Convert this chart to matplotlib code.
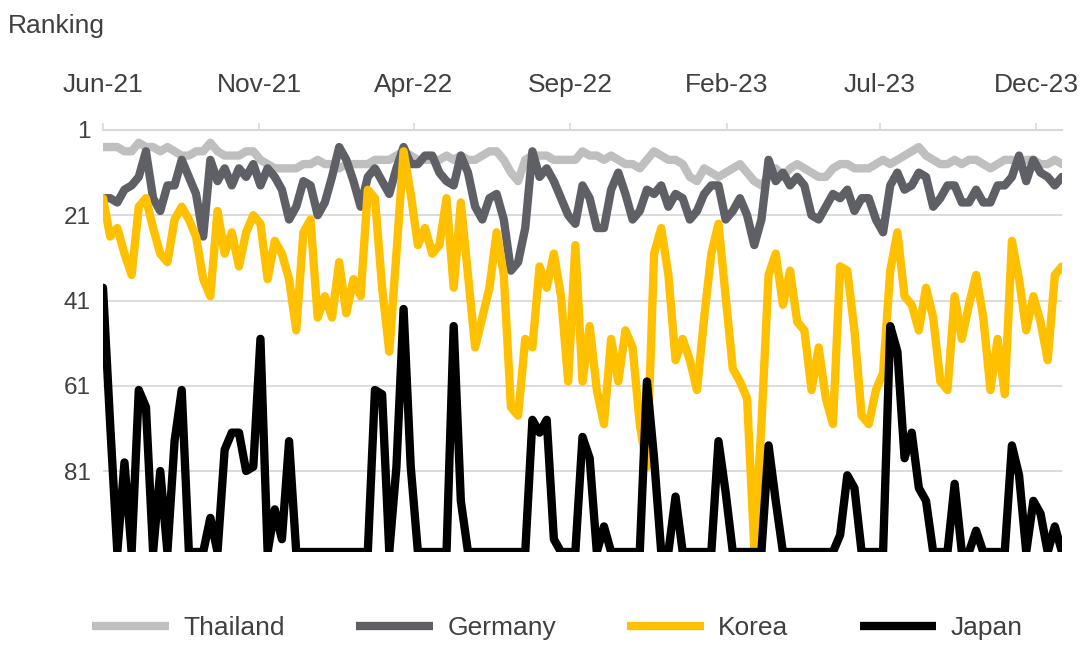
import matplotlib
matplotlib.use("Agg")
import matplotlib.pyplot as plt
import pandas as pd

plt.rcParams['font.family'] = ['Liberation Sans', 'DejaVu Sans']

# weekly observations, Jun-2021 .. Dec-2023
start_date = "2021-06-01"
n_weeks = 135

thailand = [5, 5, 5, 6, 6, 4, 5, 5, 6, 5, 6, 7, 7, 6, 6, 4, 6, 7, 7,
            7, 6, 6, 8, 9, 10, 10, 10, 10, 9, 9, 8, 9, 9, 10, 9, 9, 9, 9, 8,
            8, 8, 7, 6, 7, 8, 8, 8, 8, 7, 8, 7, 8, 8, 7, 6, 6, 8,
            11, 13, 8, 7, 7, 7, 8, 8, 8, 8, 6, 7, 7, 8, 7, 8, 9, 9, 10,
            8,
            6, 7, 8, 8, 9, 12, 13, 10, 11, 12, 11, 10, 9, 11, 13, 14, 12, 10, 12,
            10, 9, 10, 11, 12, 12, 10, 9, 9, 10, 10, 10, 9, 8, 9, 8, 7, 6, 5,
            7, 8, 9, 9, 8, 9, 8, 8, 9, 10, 9, 8, 8, 9, 8, 8, 9, 9, 8, 9]

germany = [17, 17, 18, 15, 14, 12, 6, 17, 20, 14, 14, 8, 12, 16, 26, 8, 13, 10, 14,
           10, 12, 9, 14, 10, 12, 15, 22, 19, 13, 14, 21, 18, 12, 5, 8, 13, 19, 12,
           10, 13, 16, 10, 5, 9, 9, 7, 7, 11, 13, 14, 7, 11, 19, 22, 17, 16, 22,
           34, 32, 24, 6, 12, 10, 13, 17, 21, 23, 14, 17, 24, 24, 15, 11, 16, 22, 20,
           15,
           16, 14, 19, 16, 17, 22, 20, 16, 14, 14, 22, 20, 17, 21, 28, 22, 8, 13, 11,
           14, 12, 14, 21, 22, 19, 16, 17, 15, 20, 17, 17, 22, 25, 14, 11, 15, 14, 11,
           12, 19, 17, 14, 14, 18, 18, 15, 18, 18, 14, 14, 12, 7, 13, 8, 11, 12, 14, 12]

korea = [17, 26, 24, 30, 35, 19, 17, 24, 30, 32, 22, 19, 22, 26, 36, 40, 20, 30, 25,
         33, 25, 21, 23, 36, 27, 30, 36, 48, 25, 22, 45, 40, 45, 32, 44, 36, 40, 15,
         17,
         38, 53, 30, 6, 16, 28, 24, 30, 28, 17, 38, 18, 35, 52, 45, 38, 25, 35,
         66, 68, 50, 52, 33, 38, 30, 40, 60, 28, 60, 47, 62, 70, 50, 60, 48, 52, 70,
         80,
         30, 24, 35, 55, 50, 55, 62, 45, 30, 23, 40, 57, 60, 64, 99, 70, 35, 30, 42,
         34, 46, 48, 62, 52, 64, 70, 33, 34, 48, 68, 70, 62, 58, 34, 25, 40, 42, 48,
         38, 45, 60, 62, 40, 50, 42, 35, 45, 62, 50, 63, 27, 36, 48, 40, 46, 55, 35, 33]

japan = [38, 70, 100, 79, 100, 62, 66, 100, 81, 100, 74, 62, 100, 100, 100, 92, 100, 76, 72,
         72, 81, 80, 50, 100, 90, 97, 74, 100, 100, 100, 100, 100, 100, 100, 100, 100, 100, 100,
         62, 63, 100, 80, 43, 80, 100, 100, 100, 100, 100, 47, 88, 100, 100, 100, 100, 100, 100,
         100, 100, 100, 69, 72, 69, 97, 100, 100, 100, 73, 78, 100, 94, 100, 100, 100, 100, 100,
         60,
         78, 100, 100, 87, 100, 100, 100, 100, 100, 74, 86, 100, 100, 100, 100, 100, 75, 88, 100,
         100, 100, 100, 100, 100, 100, 100, 96, 82, 85, 100, 100, 100, 100, 47, 53, 78, 72, 85,
         88, 100, 100, 100, 84, 100, 100, 95, 100, 100, 100, 100, 75, 82, 100, 88, 91, 100, 94, 100]

series_names = ["Thailand", "Germany", "Korea", "Japan"]
tick_dates = ["2021-06-01", "2021-11-01", "2022-04-01", "2022-09-01",
              "2023-02-01", "2023-07-01", "2023-12-01"]
tick_labels = ["Jun-21", "Nov-21", "Apr-22", "Sep-22", "Feb-23", "Jul-23", "Dec-23"]
y_ticks = [1, 21, 41, 61, 81]

colors = ["#BFBFBF", "#5F6066", "#FFC000", "#000000"]

dates = pd.date_range(start_date, periods=n_weeks, freq="7D")

fig = plt.figure(figsize=(10.87, 6.52), dpi=100)
ax = fig.add_axes([103 / 1087, 1 - 552 / 652, (1062 - 103) / 1087, (552 - 130) / 652])

for name, vals, c in zip(series_names, [thailand, germany, korea, japan], colors):
    ax.plot(dates, vals, color=c, lw=6, label=name, solid_joinstyle="round",
            solid_capstyle="round")

ax.set_ylim(100, 1)
ax.set_xlim(dates[0], dates[-1])
ax.set_yticks(y_ticks)
ax.set_yticklabels([str(v) for v in y_ticks])
ax.set_xticks(pd.to_datetime(tick_dates))
ax.set_xticklabels(tick_labels)

ax.xaxis.tick_top()
ax.tick_params(axis="x", length=5, width=1.2, color="#D9D9D9", direction="out",
               labelsize=19, labelcolor="#404040", pad=19)
ax.tick_params(axis="y", length=0, labelsize=17.5, labelcolor="#404040", pad=9)

for s in ["left", "right", "bottom"]:
    ax.spines[s].set_visible(False)
ax.spines["top"].set_color("#D9D9D9")
ax.spines["top"].set_linewidth(1.5)

ax.yaxis.grid(True, color="#D9D9D9", lw=1.3)
ax.xaxis.grid(False)
ax.set_axisbelow(True)

fig.text(8 / 1087, 1 - 26 / 652, "Ranking", ha="left", va="center",
         fontsize=19, color="#404040")

leg = fig.legend(loc="center", bbox_to_anchor=(0.513, 0.037), ncol=4, frameon=False,
                 fontsize=19, handlelength=2.9, handletextpad=0.55, columnspacing=2.7,
                 labelcolor="#404040")
for line in leg.get_lines():
    line.set_linewidth(6)
    line.set_solid_capstyle("butt")

fig.savefig("out.png", dpi=100)
